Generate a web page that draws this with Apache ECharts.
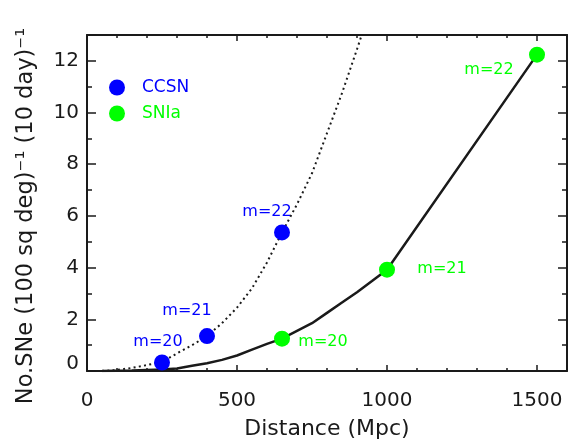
<!DOCTYPE html>
<html>
<head>
<meta charset="utf-8">
<script src="https://cdn.jsdelivr.net/npm/echarts@6/dist/echarts.min.js"></script>
<style>html,body{margin:0;padding:0;background:#fff}#c{width:570px;height:445px}</style>
</head>
<body>
<div id="c"></div>
<script>
// ---- data ----
const ccsnDist = [250, 400, 650];
const ccsnRate = [0.33, 1.35, 5.36];
const ccsnMag = ['m=20', 'm=21', 'm=22'];
const snIaDist = [650, 1000, 1500];
const snIaRate = [1.25, 3.92, 12.24];
const snIaMag = ['m=20', 'm=21', 'm=22'];
const ccsnCurveDist = [50,100,150,200,250,300,350,400,450,500,550,600,650,700,750,800,850,900,950];
const ccsnCurveRate = [0,0.04,0.12,0.23,0.35,0.68,1.0,1.35,1.85,2.45,3.2,4.2,5.36,6.45,7.65,9.2,10.75,12.45,14.2];
const snIaCurveDist = [50,100,150,200,250,300,350,400,450,500,550,600,650,700,750,800,850,900,950,1000,1500];
const snIaCurveRate = [0,0.01,0.02,0.04,0.06,0.1,0.2,0.3,0.43,0.6,0.83,1.05,1.25,1.55,1.85,2.25,2.65,3.05,3.48,3.92,12.24];
const xTicks = [0, 500, 1000, 1500];
const yTicks = [0, 2, 4, 6, 8, 10, 12];

// ---- layout (label offsets, px) ----
const ccsnLabelOffsets = [[-4, -21], [-20, -25], [-15, -21]];
const snIaLabelOffsets = [[41, 3], [55, -1], [-48, 15]];

const FONT = 'DejaVu Sans';
const BLUE = '#0000ff', GREEN = '#00ff00', INK = '#1a1a1a';

const zip = (a, b) => a.map((v, i) => [v, b[i]]);
function pts(d, r, names, offs, color) {
  return d.map((v, i) => ({
    value: [v, r[i]],
    label: { show: true, formatter: names[i], position: 'inside', offset: offs[i],
      color: color, fontFamily: FONT, fontSize: 16 }
  }));
}

const axLine = { show: true, onZero: false, lineStyle: { color: INK, width: 2 } };
function xAx(pos, labels) {
  return {
    type: 'value', position: pos, min: 0, max: 1600, interval: 500,
    axisLine: axLine,
    axisTick: { show: true, inside: true, length: 6, lineStyle: { color: INK, width: 1.5 } },
    minorTick: { show: true, splitNumber: 5, length: 3, lineStyle: { color: INK, width: 1.5 } },
    splitLine: { show: false },
    axisLabel: { show: labels, margin: 20, color: INK, fontFamily: FONT, fontSize: 20,
      formatter: v => xTicks.includes(v) ? String(v) : '' }
  };
}
function yAx(pos, labels) {
  return {
    type: 'value', position: pos, min: 0, max: 13, interval: 2,
    axisLine: axLine,
    axisTick: { show: true, inside: true, length: 9, lineStyle: { color: INK, width: 1.5 } },
    minorTick: { show: true, splitNumber: 2, length: 5, lineStyle: { color: INK, width: 1.5 } },
    splitLine: { show: false },
    axisLabel: { show: labels, margin: 8, color: INK, fontFamily: FONT, fontSize: 20,
      formatter: v => yTicks.includes(v) ? (v === 0 ? '{z|0}' : String(v)) : '',
      rich: { z: { fontFamily: FONT, fontSize: 20, color: INK, padding: [0, 0, 14, 0] } } }
  };
}

const chart = echarts.init(document.getElementById('c'), null, { renderer: 'canvas' });
chart.setOption({
  animation: false,
  backgroundColor: '#fff',
  grid: { left: 87, right: 1, top: 35, bottom: 71 },
  xAxis: [
    Object.assign(xAx('bottom', true), { name: 'Distance (Mpc)', nameLocation: 'middle', nameGap: 47,
      nameTextStyle: { color: INK, fontFamily: FONT, fontSize: 22 } }),
    xAx('top', false)
  ],
  yAxis: [yAx('left', true), yAx('right', false)],
  legend: {
    orient: 'vertical', left: 104, top: 74, itemWidth: 16, itemHeight: 16, itemGap: 9,
    icon: 'circle',
    textStyle: { fontFamily: FONT, fontSize: 17, padding: [0, 0, 0, 12] },
    data: [
      { name: 'CCSN', textStyle: { color: BLUE } },
      { name: 'SNIa', textStyle: { color: GREEN } }
    ]
  },
  graphic: [{
    type: 'text', x: 26, y: 216, rotation: Math.PI / 2,
    style: { text: 'No.SNe (100 sq deg)⁻¹ (10 day)⁻¹', fill: INK, font: '22.5px "DejaVu Sans"',
      align: 'center', verticalAlign: 'middle' }
  }],
  series: [
    { name: 'ccsnCurve', type: 'line', data: zip(ccsnCurveDist, ccsnCurveRate), showSymbol: false,
      symbol: 'none', clip: true, lineStyle: { color: INK, width: 2, type: [2, 3.3] }, z: 2 },
    { name: 'snIaCurve', type: 'line', data: zip(snIaCurveDist, snIaCurveRate), showSymbol: false,
      symbol: 'none', clip: true, lineStyle: { color: INK, width: 2.5 }, z: 2 },
    { name: 'CCSN', type: 'scatter', symbolSize: 16, itemStyle: { color: BLUE, opacity: 1 },
      data: pts(ccsnDist, ccsnRate, ccsnMag, ccsnLabelOffsets, BLUE), z: 3 },
    { name: 'SNIa', type: 'scatter', symbolSize: 16, itemStyle: { color: GREEN, opacity: 1 },
      data: pts(snIaDist, snIaRate, snIaMag, snIaLabelOffsets, GREEN), z: 3 }
  ]
});
</script>
</body>
</html>
